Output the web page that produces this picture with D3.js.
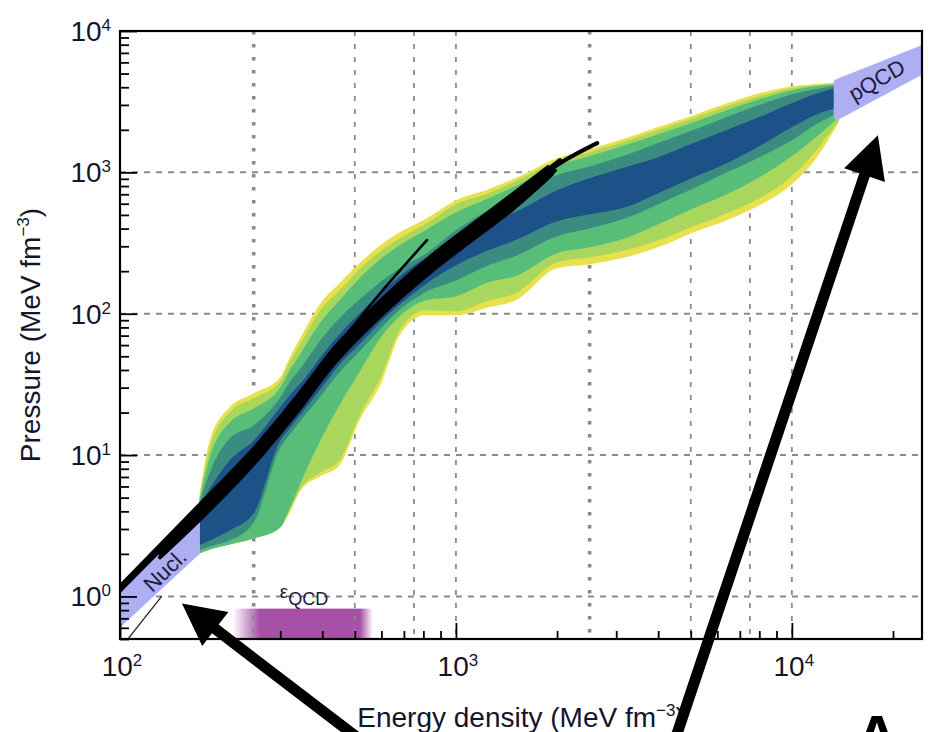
<!DOCTYPE html>
<html>
<head>
<meta charset="utf-8">
<script src="https://cdn.jsdelivr.net/npm/d3@7"></script>
<style>
  html, body { margin: 0; padding: 0; background: #fff; }
  svg { display: block; font-family: "Liberation Sans", Arial, Helvetica, sans-serif; }
</style>
</head>
<body>
<svg id="chart" width="930" height="732"></svg>
<script>
// ---- Data -------------------------------------------------------------
// Energy grid (MeV fm^-3) on which the credible bands are tabulated
const energy = [172, 185, 212, 250, 300, 320, 345, 395, 450, 520, 595, 680, 810,
                1000, 1250, 1500, 2000, 2500, 3200, 4000, 5100, 6400, 8000, 10000, 11700, 13800];

// Pressure bands (MeV fm^-3), outermost (yellow) to innermost (blue)
const yellowUpper = [5.02, 12.7, 21.8, 27.3, 35.5, 49.1, 68.1, 118, 164, 231, 305, 377, 466,
                     635, 759, 908, 1260, 1460, 1740, 2090, 2540, 3080, 3630, 4070, 4200, 4340];
const yellowLower = [2.01, 2.15, 2.33, 2.57, 3.08, 3.93, 5.63, 7.07, 8.45, 18.2, 31.1, 70.3, 97.4,
                     97.4, 111, 124, 210, 224, 251, 295, 377, 458, 585, 824, 1220, 2260];
const lightGreenUpper = [4.78, 11.3, 20.1, 25.2, 33.2, 45.3, 61.7, 106, 146, 210, 276, 342, 429,
                         595, 711, 865, 1200, 1390, 1660, 1990, 2420, 2940, 3460, 3940, 4130, 4270];
const lightGreenLower = [2.01, 2.15, 2.33, 2.57, 3.08, 4.06, 5.81, 7.54, 9.17, 19.7, 34.9, 76.3, 106,
                         104, 124, 139, 231, 251, 281, 331, 415, 513, 656, 938, 1390, 2340];
const greenUpper = [4.63, 9.63, 17.0, 21.4, 30.1, 39.8, 52.4, 86.9, 124, 181, 243, 305, 389,
                    522, 656, 797, 1120, 1300, 1560, 1860, 2260, 2750, 3290, 3810, 4070, 4200];
const greenLower = [2.01, 2.15, 2.33, 2.57, 3.08, 4.20, 6.41, 12.7, 22.5, 39.8, 67.0, 95.8, 124,
                    133, 167, 184, 268, 295, 342, 429, 557, 700, 923, 1300, 1740, 2460];
const tealUpper = [4.48, 7.54, 13.1, 16.2, 25.6, 32.7, 41.1, 64.8, 92.8, 128, 167, 210, 263,
                   389, 539, 656, 954, 1100, 1320, 1610, 1990, 2460, 2990, 3570, 3870, 4130];
const tealLower = [2.12, 2.26, 2.49, 3.34, 11.3, 14.0, 17.6, 26.0, 38.5, 55.1, 77.6, 107, 142,
                   172, 220, 255, 353, 402, 473, 595, 772, 1000, 1280, 1690, 2150, 2660];
const blueUpper = [4.34, 5.81, 9.17, 12.7, 21.8, 26.5, 32.2, 49.1, 71.5, 102, 139, 184, 247,
                   305, 443, 522, 747, 908, 1087, 1280, 1610, 1990, 2460, 3080, 3570, 4000];
const blueLower = [2.30, 2.49, 2.93, 3.87, 12.7, 15.5, 19.4, 29.2, 43.8, 61.7, 86.9, 116, 161,
                   220, 281, 331, 451, 505, 566, 711, 923, 1160, 1530, 2090, 2540, 2890];

// Nuclear-theory band at low density and pQCD band at high density
const nuclEnergy = [100, 173];
const nuclUpper = [1.10, 3.93];
const nuclLower = [0.603, 2.01];
const pqcdEnergy = [13600, 24400];
const pqcdUpper = [4340, 7550];
const pqcdLower = [2460, 5190];

// Individual model EoS curves, [energy density, pressure]
const eosA = [[100, 1.18], [173, 4.48], [263, 12.7], [343, 27.3], [422, 52.4], [594, 122],
              [837, 251], [1101, 415], [1448, 677], [1878, 1087]];
const eosB = [[131.5, 1.89], [173, 3.51], [263, 9.95], [343, 21.4], [422, 41.1], [594, 95.8],
              [837, 196], [1101, 325], [1448, 530], [1931, 969]];
const eosC = [[100, 1.10], [131.5, 2.12], [173, 4.00], [212, 6.62], [263, 11.3], [343, 24.4],
              [422, 46.8], [594, 109], [837, 224], [1101, 371], [1448, 604], [1971, 1100], [2633, 1610]];
const eosD = [[263, 12.7], [343, 27.8], [450, 61.7], [594, 139], [820, 331]];
const eosE = [[100, 1.14], [173, 4.26], [263, 11.9], [343, 26.0], [422, 49.9], [594, 116],
              [837, 239], [1101, 396], [1448, 645], [2039, 1220]];
const eosF = [[131.5, 2.01], [173, 3.74], [263, 10.6], [343, 22.9], [422, 43.8], [594, 102],
              [837, 210], [1101, 347], [1448, 566], [1971, 1030]];
const nuclEdgeLine = [[100, 0.425], [133, 1.0]];

// Range of the QCD energy-density estimate (core and faded extent)
const qcdCore = [261, 518];
const qcdFade = [217, 566];
const qcdBarPressure = [0.5, 0.82];

// Axes
const xMajorTicks = [100, 1000, 10000];
const xMajorExp = ["2", "3", "4"];
const yMajorTicks = [1, 10, 100, 1000, 10000];
const yMajorExp = ["0", "1", "2", "3", "4"];
const xGridValues = [250, 500, 750, 1000, 2500, 5000, 7500, 10000];
const xGridHeavy = [250, 2500];
const yGridValues = [1, 10, 100, 1000];

// ---- Layout -----------------------------------------------------------
const L = 120, R = 922, T = 31, B = 639;
const svg = d3.select("#chart");
const x = d3.scaleLog().domain([100, 24400]).range([L, R]);
const y = d3.scaleLog().domain([0.5, 10000]).range([B, T]);

const defs = svg.append("defs");
defs.append("clipPath").attr("id", "plotClip")
  .append("rect").attr("x", L).attr("y", T).attr("width", R - L).attr("height", B - T);

const purple = "#a651a6";
const grad = defs.append("linearGradient").attr("id", "qcdGrad")
  .attr("gradientUnits", "userSpaceOnUse")
  .attr("x1", x(qcdFade[0])).attr("x2", x(qcdFade[1])).attr("y1", 0).attr("y2", 0);
const gSpan = x(qcdFade[1]) - x(qcdFade[0]);
grad.append("stop").attr("offset", 0).attr("stop-color", purple).attr("stop-opacity", 0);
grad.append("stop").attr("offset", (x(qcdCore[0]) - x(qcdFade[0])) / gSpan).attr("stop-color", purple).attr("stop-opacity", 1);
grad.append("stop").attr("offset", (x(qcdCore[1]) - x(qcdFade[0])) / gSpan).attr("stop-color", purple).attr("stop-opacity", 1);
grad.append("stop").attr("offset", 1).attr("stop-color", purple).attr("stop-opacity", 0);

const plot = svg.append("g").attr("clip-path", "url(#plotClip)");

// QCD energy-density bar along the bottom
plot.append("rect")
  .attr("x", x(qcdFade[0])).attr("width", x(qcdFade[1]) - x(qcdFade[0]))
  .attr("y", y(qcdBarPressure[1])).attr("height", y(qcdBarPressure[0]) - y(qcdBarPressure[1]))
  .attr("fill", "url(#qcdGrad)");

// Grid
const gridColor = "#8a8a8a";
plot.append("g").selectAll("line").data(xGridValues).join("line")
  .attr("x1", d => x(d)).attr("x2", d => x(d)).attr("y1", T).attr("y2", B)
  .attr("stroke", gridColor)
  .attr("stroke-width", d => xGridHeavy.includes(d) ? 3.6 : 1.8)
  .attr("stroke-dasharray", d => xGridHeavy.includes(d) ? "3.6 9.4" : "5 8");
plot.append("g").selectAll("line").data(yGridValues).join("line")
  .attr("x1", L).attr("x2", R).attr("y1", d => y(d)).attr("y2", d => y(d))
  .attr("stroke", gridColor).attr("stroke-width", 2).attr("stroke-dasharray", "6 6");

// Credible bands
const bands = [
  { color: "#e6e14c", hi: yellowUpper, lo: yellowLower },
  { color: "#a9d65c", hi: lightGreenUpper, lo: lightGreenLower },
  { color: "#58bd78", hi: greenUpper, lo: greenLower },
  { color: "#3a8b80", hi: tealUpper, lo: tealLower },
  { color: "#1c5287", hi: blueUpper, lo: blueLower }
];
const bandArea = d3.area()
  .x(d => x(d.e)).y0(d => y(d.lo)).y1(d => y(d.hi))
  .curve(d3.curveMonotoneX);
plot.append("g").selectAll("path").data(bands).join("path")
  .attr("d", b => bandArea(energy.map((e, i) => ({ e, lo: b.lo[i], hi: b.hi[i] }))))
  .attr("fill", b => b.color);

// Nuclear and pQCD bands
const lavender = "#aeaef5";
const simpleArea = d3.area().x(d => x(d.e)).y0(d => y(d.lo)).y1(d => y(d.hi));
plot.append("path")
  .attr("d", simpleArea(nuclEnergy.map((e, i) => ({ e, lo: nuclLower[i], hi: nuclUpper[i] }))))
  .attr("fill", lavender);
plot.append("path")
  .attr("d", simpleArea(pqcdEnergy.map((e, i) => ({ e, lo: pqcdLower[i], hi: pqcdUpper[i] }))))
  .attr("fill", lavender).attr("stroke", lavender).attr("stroke-width", 6).attr("stroke-linejoin", "round");

// Model EoS curves
const eosLine = d3.line().x(d => x(d[0])).y(d => y(d[1])).curve(d3.curveMonotoneX);
plot.append("g").selectAll("path").data([eosA, eosE, eosC, eosF, eosB]).join("path")
  .attr("d", eosLine).attr("fill", "none").attr("stroke", "#000")
  .attr("stroke-width", 4).attr("stroke-linecap", "round");
plot.append("path").attr("d", eosLine(eosD)).attr("fill", "none")
  .attr("stroke", "#000").attr("stroke-width", 2.6).attr("stroke-linecap", "round");
plot.append("path").attr("d", eosLine(nuclEdgeLine)).attr("fill", "none")
  .attr("stroke", "#222").attr("stroke-width", 1.3);

// Region labels
const nuclLabelPos = [136, 1.53];
svg.append("text")
  .attr("transform", `translate(${x(nuclLabelPos[0])},${y(nuclLabelPos[1])}) rotate(-44)`)
  .attr("text-anchor", "middle").attr("dy", "0.35em")
  .attr("font-size", 22).attr("fill", "#1c1c3a").text("Nucl.");
const pqcdLabelPos = [17900, 4490];
svg.append("text")
  .attr("transform", `translate(${x(pqcdLabelPos[0])},${y(pqcdLabelPos[1])}) rotate(-30)`)
  .attr("text-anchor", "middle").attr("dy", "0.35em")
  .attr("font-size", 22).attr("fill", "#1c1c3a").text("pQCD");
const qcdLabelPos = [299, 0.98];
const qcdText = svg.append("text")
  .attr("x", x(qcdLabelPos[0])).attr("y", y(qcdLabelPos[1]))
  .attr("fill", "#1c1c3a");
qcdText.append("tspan").attr("font-size", 19).text("ε");
qcdText.append("tspan").attr("font-size", 18).attr("dy", 7).text("QCD");

// ---- Axes ---------------------------------------------------------------
const isMajor = v => Math.abs(Math.log10(v) - Math.round(Math.log10(v))) < 1e-6;
const xMinor = x.ticks().filter(v => !isMajor(v));
const yMinor = y.ticks().filter(v => !isMajor(v));

function styleAxis(g) {
  g.select(".domain").remove();
  g.selectAll(".tick line").attr("stroke", "#000").attr("stroke-width", 1.8);
}
svg.append("g").attr("transform", `translate(0,${B})`)
  .call(d3.axisBottom(x).tickValues(xMinor).tickSize(-8).tickFormat("")).call(styleAxis);
svg.append("g").attr("transform", `translate(0,${B})`)
  .call(d3.axisBottom(x).tickValues(xMajorTicks).tickSize(-16).tickFormat("")).call(styleAxis);
svg.append("g").attr("transform", `translate(${L},0)`)
  .call(d3.axisLeft(y).tickValues(yMinor).tickSize(-9).tickFormat("")).call(styleAxis);
svg.append("g").attr("transform", `translate(${L},0)`)
  .call(d3.axisLeft(y).tickValues(yMajorTicks).tickSize(-17).tickFormat("")).call(styleAxis);

// Frame
svg.append("rect").attr("x", L).attr("y", T).attr("width", R - L).attr("height", B - T)
  .attr("fill", "none").attr("stroke", "#000").attr("stroke-width", 2.2);

// Tick labels
const labelColor = "#15152a";
svg.append("g").selectAll("text").data(xMajorTicks).join("text")
  .attr("x", d => x(d) + 2).attr("y", 676).attr("text-anchor", "middle")
  .attr("font-size", 28).attr("fill", labelColor)
  .each(function (d, i) {
    const t = d3.select(this);
    t.append("tspan").text("10");
    t.append("tspan").attr("dy", -10).attr("font-size", 17).text(xMajorExp[i]);
  });
svg.append("g").selectAll("text").data(yMajorTicks).join("text")
  .attr("x", 111).attr("y", d => y(d) + 10).attr("text-anchor", "end")
  .attr("font-size", 28).attr("fill", labelColor)
  .each(function (d, i) {
    const t = d3.select(this);
    t.append("tspan").text("10");
    t.append("tspan").attr("dy", -10).attr("font-size", 17).text(yMajorExp[i]);
  });

// Axis titles
function unitTitle(sel, lead) {
  sel.append("tspan").text(lead + " (MeV fm");
  sel.append("tspan").attr("dy", -11).attr("font-size", 17).text("−3");
  sel.append("tspan").attr("dy", 11).text(")");
}
svg.append("text").attr("x", (L + R) / 2).attr("y", 727).attr("text-anchor", "middle")
  .attr("font-size", 28).attr("fill", labelColor).call(unitTitle, "Energy density");
svg.append("text").attr("transform", `translate(40,${(T + B) / 2}) rotate(-90)`)
  .attr("text-anchor", "middle").attr("font-size", 28).attr("fill", labelColor)
  .call(unitTitle, "Pressure");

// ---- Annotation arrows ----------------------------------------------------
const arrows = [
  { tip: [152.9, 0.892], angle: 37.4, length: 230 },
  { tip: [18030, 1830], angle: 108.55, length: 640 }
];
function arrowPath(a) {
  const tx = x(a.tip[0]), ty = y(a.tip[1]);
  const r = a.angle * Math.PI / 180;
  const ux = Math.cos(r), uy = Math.sin(r), px = -uy, py = ux;
  const headL = 42, headW = 43, shaftW = 11;
  const bx = tx + ux * headL, by = ty + uy * headL;
  const ex = tx + ux * a.length, ey = ty + uy * a.length;
  const pts = [
    [tx, ty],
    [bx + px * headW / 2, by + py * headW / 2],
    [bx + px * shaftW / 2, by + py * shaftW / 2],
    [ex + px * shaftW / 2, ey + py * shaftW / 2],
    [ex - px * shaftW / 2, ey - py * shaftW / 2],
    [bx - px * shaftW / 2, by - py * shaftW / 2],
    [bx - px * headW / 2, by - py * headW / 2]
  ];
  return "M" + pts.map(p => p.join(",")).join("L") + "Z";
}
svg.append("g").selectAll("path").data(arrows).join("path")
  .attr("d", arrowPath).attr("fill", "#000");

// Panel letter (sits at the bottom edge of the figure)
svg.append("text").attr("x", 877).attr("y", 757).attr("text-anchor", "middle")
  .attr("font-size", 60).attr("font-weight", "bold").attr("fill", "#000").text("A");
</script>
</body>
</html>
